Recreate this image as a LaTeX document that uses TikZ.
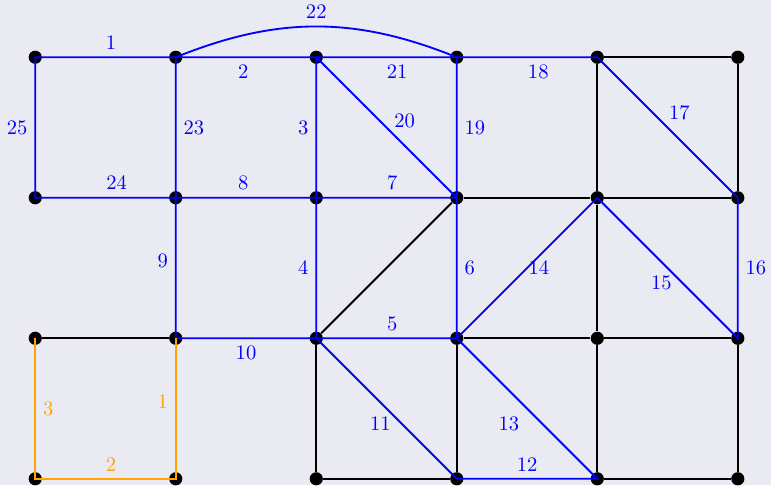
\documentclass[tikz,border=0pt]{standalone}
\usepackage{amsmath}
\usepackage{amssymb}
\usepackage{xcolor}
\usepackage{tikz}

\definecolor{bgc}{RGB}{234,234,242}
\definecolor{tourorange}{RGB}{255,165,0}

\begin{document}
\begin{tikzpicture}[x=2.4cm,y=2.4cm,
  vertex/.style={circle,fill=black,inner sep=0pt,minimum size=6.4pt},
  edge/.style={line width=0.9pt},
  tour/.style={blue,line width=0.9pt},
  alt/.style={tourorange,line width=0.9pt}]
\useasboundingbox (-0.2508,-0.0445) rectangle (5.2362,3.4075);
\fill[bgc] (-0.2508,-0.0445) rectangle (5.2362,3.4075);
\foreach \i in {0,...,5}
  \foreach \j in {0,...,3}
    \node[vertex] (v\i\j) at (\i,\j) {};
\foreach \a/\b in {v43/v53,v43/v42,v53/v52,v32/v42,v42/v52,v32/v21,v42/v41,v01/v11,
                   v31/v41,v41/v51,v21/v20,v31/v30,v41/v40,v51/v50,v20/v30,v40/v50}
  \draw[edge] (\a) -- (\b);
\draw[tour] (v03.center)
  -- node[above,pos=.54] {1} (v13.center)
  -- node[below,pos=.48] {2} (v23.center)
  -- node[left] {3} (v22.center)
  -- node[left] {4} (v21.center)
  -- node[above,pos=.54] {5} (v31.center)
  -- node[right] {6} (v32.center)
  -- node[above,pos=.46] {7} (v22.center)
  -- node[above,pos=.52] {8} (v12.center)
  -- node[left,pos=.45] {9} (v11.center)
  -- node[below] {10} (v21.center)
  -- node[below,xshift=-3pt] {11} (v30.center)
  -- node[above] {12} (v40.center)
  -- node[below left] {13} (v31.center)
  -- node[right,xshift=-3pt] {14} (v42.center)
  -- node[below,xshift=-3pt] {15} (v51.center)
  -- node[right] {16} (v52.center)
  -- node[above right,xshift=-3pt] {17} (v43.center)
  -- node[below,pos=.42] {18} (v33.center)
  -- node[right] {19} (v32.center)
  -- node[right,yshift=3pt] {20} (v23.center)
  -- node[below,pos=.575] {21} (v33.center)
  to[bend right=22] node[above] {22} (v13.center)
  -- node[right] {23} (v12.center)
  -- node[above,pos=.42] {24} (v02.center)
  -- node[left] {25} (v03.center);
\draw[alt] (v11.center)
  -- node[left,pos=.45] {1} (v10.center)
  -- node[above,pos=.46] {2} (v00.center)
  -- node[right] {3} (v01.center);
\end{tikzpicture}
\end{document}
